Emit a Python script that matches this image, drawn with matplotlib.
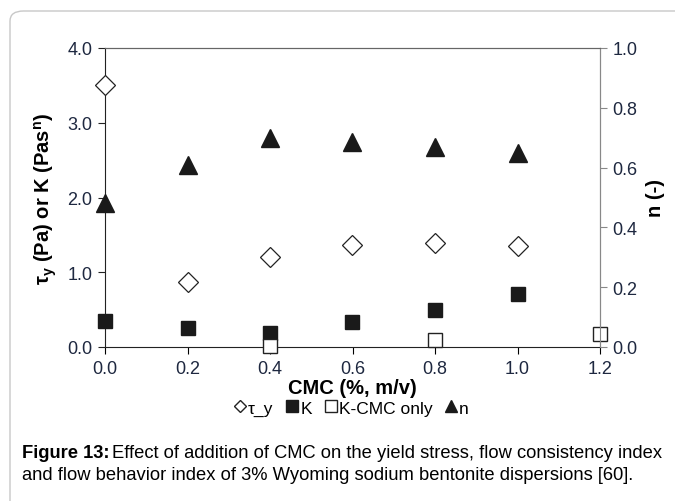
import numpy as np
import matplotlib.pyplot as plt
from matplotlib.patches import FancyBboxPatch
from matplotlib.lines import Line2D

plt.rcParams['font.family'] = ['Liberation Sans', 'DejaVu Sans']
plt.rcParams['mathtext.fontset'] = 'custom'
plt.rcParams['mathtext.rm'] = 'Liberation Sans'
plt.rcParams['mathtext.bf'] = 'Liberation Sans:bold'
plt.rcParams['mathtext.it'] = 'Liberation Sans:italic'

# data
cmc = [0.0, 0.2, 0.4, 0.6, 0.8, 1.0]
tau_y = [3.51, 0.87, 1.21, 1.37, 1.39, 1.35]
k_vals = [0.35, 0.25, 0.19, 0.33, 0.49, 0.71]
n_vals = [0.483, 0.61, 0.70, 0.687, 0.67, 0.65]
cmc_only = [0.4, 0.8, 1.2]
k_cmc_only = [0.02, 0.09, 0.18]

tick_color = '#1e2840'

fig = plt.figure(figsize=(6.75, 5.02), dpi=100)

# rounded border around figure + caption
border = FancyBboxPatch((10 / 675, -20 / 502), 700 / 675, 510 / 502,
                        boxstyle='round,pad=0,rounding_size=0.02',
                        transform=fig.transFigure, facecolor='none',
                        edgecolor='#c8c8c8', linewidth=1.0, zorder=0)
fig.patches.append(border)

ax = fig.add_axes([105 / 675, 154 / 502, 495 / 675, 299 / 502])
ax2 = ax.twinx()

ax.plot(cmc, tau_y, linestyle='none', marker='D', markersize=10,
        markerfacecolor='white', markeredgecolor='#222222', markeredgewidth=0.9,
        clip_on=False, zorder=5)
ax.plot(cmc, k_vals, linestyle='none', marker='s', markersize=10,
        markerfacecolor='#1a1a1a', markeredgecolor='#1a1a1a',
        clip_on=False, zorder=5)
ax.plot(cmc_only, k_cmc_only, linestyle='none', marker='s', markersize=10,
        markerfacecolor='white', markeredgecolor='#222222', markeredgewidth=1.0,
        clip_on=False, zorder=6)
ax2.plot(cmc, n_vals, linestyle='none', marker='^', markersize=13,
         markerfacecolor='#1a1a1a', markeredgecolor='#1a1a1a',
         clip_on=False, zorder=5)

ax.set_xlim(0, 1.2)
ax.set_ylim(0, 4.0)
ax2.set_ylim(0, 1.0)
ax.set_xticks(np.arange(0, 1.21, 0.2))
ax.set_xticklabels(['%.1f' % v for v in np.arange(0, 1.21, 0.2)])
ax.set_yticks([0, 1, 2, 3, 4])
ax.set_yticklabels(['0.0', '1.0', '2.0', '3.0', '4.0'])
ax2.set_yticks([0, 0.2, 0.4, 0.6, 0.8, 1.0])
ax2.set_yticklabels(['0.0', '0.2', '0.4', '0.6', '0.8', '1.0'])

for a in (ax, ax2):
    a.tick_params(direction='out', length=5, width=0.8, labelsize=13,
                  labelcolor=tick_color, pad=4)
ax.tick_params(axis='y', colors='#222222', labelcolor=tick_color)
ax2.tick_params(axis='y', colors='#888888', labelcolor=tick_color)

ax.spines['left'].set_color('#222222')
ax.spines['bottom'].set_color('#222222')
ax2.spines['left'].set_visible(False)
ax2.spines['bottom'].set_visible(False)
for a in (ax, ax2):
    a.spines['top'].set_color('#666666')
    a.spines['right'].set_color('#888888')

ax.set_xlabel('CMC (%, m/v)', fontsize=14.5, fontweight='bold', labelpad=1)
ax.set_ylabel(r'τ$_\mathbf{y}$ (Pa) or K (Pas$^\mathbf{n}$)', fontsize=14.5,
              fontweight='bold', labelpad=6)
ax2.set_ylabel('n (-)', fontsize=14.5, fontweight='bold', labelpad=6)

handles = [
    Line2D([], [], linestyle='none', marker='D', markersize=6,
           markerfacecolor='white', markeredgecolor='#222222'),
    Line2D([], [], linestyle='none', marker='s', markersize=8,
           markerfacecolor='#1a1a1a', markeredgecolor='#1a1a1a'),
    Line2D([], [], linestyle='none', marker='s', markersize=8,
           markerfacecolor='white', markeredgecolor='#222222'),
    Line2D([], [], linestyle='none', marker='^', markersize=8,
           markerfacecolor='#1a1a1a', markeredgecolor='#1a1a1a'),
]
labels = ['τ_y', 'K', 'K-CMC only', 'n']
fig.legend(handles, labels, loc='center', bbox_to_anchor=(352 / 675, 1 - 409 / 502),
           ncol=4, frameon=False, fontsize=12.5, handlelength=0.6,
           handletextpad=0.15, columnspacing=0.8, borderpad=0)

# caption
cap1 = fig.text(22 / 675, 1 - 454 / 502, 'Figure 13:', fontsize=13.25,
                fontweight='bold', va='center', ha='left')
fig.canvas.draw()
bb = cap1.get_window_extent()
fig.text(bb.x1 / fig.bbox.width + 3 / 675, 1 - 454 / 502,
         'Effect of addition of CMC on the yield stress, flow consistency index',
         fontsize=13.25, va='center', ha='left')
fig.text(22 / 675, 1 - 475 / 502,
         'and flow behavior index of 3% Wyoming sodium bentonite dispersions [60].',
         fontsize=13.25, va='center', ha='left')

fig.savefig('out.png', dpi=100)
